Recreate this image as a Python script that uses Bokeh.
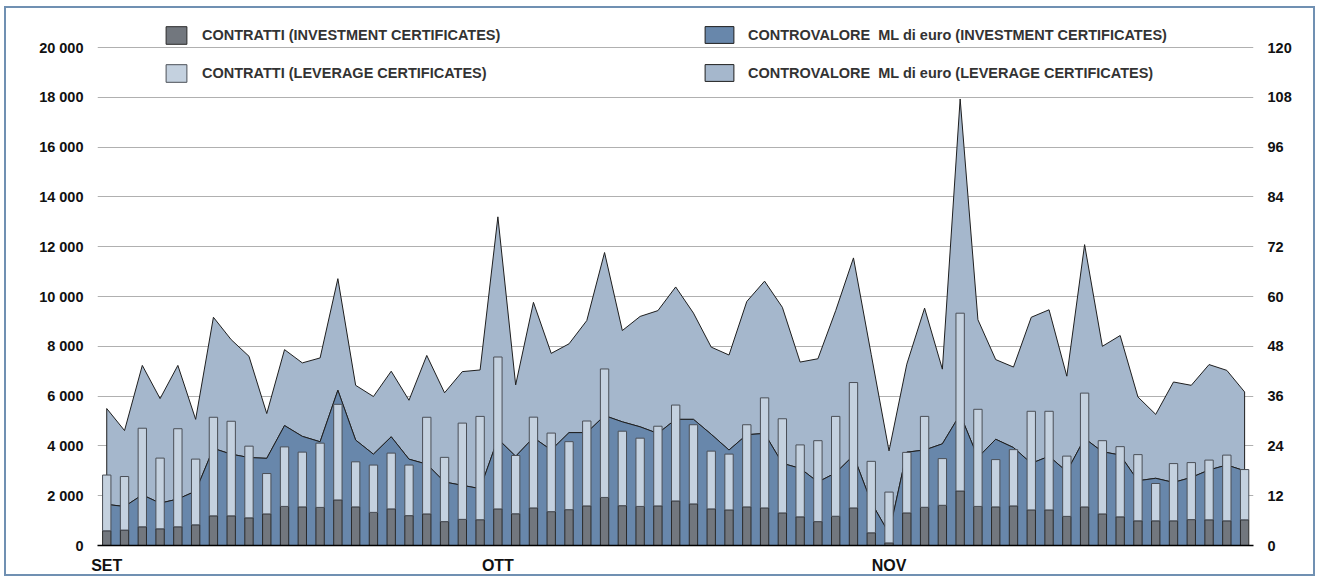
import numpy as np
from bokeh.plotting import figure
from bokeh.models import (Range1d, LinearAxis, FixedTicker, Legend, LegendItem,
                          ColumnDataSource)
from bokeh.embed import file_html
from bokeh.resources import INLINE

# ---------------- data ----------------
month_labels = ["SET", "OTT", "NOV"]
month_start_index = [0, 22, 44]

contratti_investment = [
    590, 620, 750, 670, 750, 830, 1190, 1190, 1110, 1270, 1570, 1550, 1530, 1830,
    1550, 1330, 1470, 1200, 1270, 960, 1050, 1035,
    1470, 1275, 1510, 1360, 1440, 1590, 1930, 1600, 1570, 1590, 1790, 1670, 1470,
    1430, 1550, 1510, 1310, 1150, 960, 1175, 1510, 510,
    105, 1310, 1535, 1615, 2190, 1570, 1550, 1590, 1430, 1430, 1170, 1550, 1270,
    1150, 990, 990, 990, 1040, 1030, 990, 1030]
contratti_leverage = [
    2240, 2150, 3960, 2840, 3940, 2640, 3960, 3800, 2880, 1620, 2390, 2200, 2580, 3840,
    1810, 1900, 2240, 2030, 3880, 2580, 3865, 4150,
    6100, 2340, 3645, 3155, 2730, 3410, 5160, 2990, 2740, 3200, 3850, 3180, 2320,
    2240, 3300, 4420, 3780, 2890, 3250, 4010, 5035, 2870,
    2040, 2430, 3650, 1875, 7140, 3900, 1900, 2260, 3960, 3960, 2420, 4570, 2940,
    2820, 2660, 1500, 2300, 2290, 2400, 2640, 2020]
controvalore_investment = [
    9.9, 9.4, 12.2, 10.2, 11.2, 13.1, 23.4, 22.0, 21.2, 21.0, 28.9, 26.3, 25.0, 37.4,
    25.4, 22.0, 26.2, 20.8, 19.6, 15.3, 14.5, 13.7,
    25.7, 21.5, 26.0, 23.0, 27.2, 27.2, 31.3, 29.8, 28.6, 27.0, 30.4, 30.4, 26.8,
    23.0, 26.7, 27.0, 19.8, 18.6, 15.3, 17.5, 21.7, 10.4,
    2.9, 22.5, 23.0, 24.5, 31.6, 21.2, 25.6, 23.6, 19.8, 21.5, 17.8, 25.8, 22.6,
    21.8, 15.6, 16.2, 15.2, 16.4, 18.2, 19.4, 18.0]
controvalore_leverage = [
    23.1, 18.3, 31.2, 25.2, 32.2, 17.3, 31.6, 27.6, 24.4, 10.8, 18.3, 17.7, 20.2, 26.9,
    13.2, 13.9, 15.8, 14.2, 26.2, 21.5, 27.4, 28.6,
    53.5, 17.2, 32.6, 23.3, 21.4, 27.0, 39.3, 22.0, 26.6, 29.6, 31.9, 25.6, 21.0,
    22.9, 32.1, 36.7, 37.6, 25.6, 29.7, 39.1, 47.6, 35.6,
    19.9, 21.2, 34.2, 18.0, 76.0, 33.2, 19.2, 19.4, 35.2, 35.3, 23.0, 46.7, 25.4,
    28.8, 20.2, 15.4, 24.2, 22.2, 25.4, 22.8, 19.0]

left_ticks = list(range(0, 20001, 2000))
right_ticks = list(range(0, 121, 12))

label_ct_inv = "CONTRATTI (INVESTMENT CERTIFICATES)"
label_ct_lev = "CONTRATTI (LEVERAGE CERTIFICATES)"
label_cv_inv = "CONTROVALORE  ML di euro (INVESTMENT CERTIFICATES)"
label_cv_lev = "CONTROVALORE  ML di euro (LEVERAGE CERTIFICATES)"

# ---------------- styling ----------------
C_CT_INV = "#72777e"
C_CT_LEV = "#c4d1df"
C_CV_INV = "#6887ab"
C_CV_LEV = "#a5b7cc"
FONT = "Liberation Sans"

n = len(contratti_investment)
x = list(range(n))

W, H = 1311, 570
y_top_left = 21085.0
y_top_right = y_top_left * 120 / 20000

p = figure(width=W, height=H, output_backend="svg", toolbar_location=None,
           x_range=Range1d(-0.52, 64.5), y_range=Range1d(0, y_top_left),
           min_border_left=91, min_border_right=64, min_border_top=12,
           min_border_bottom=33)
p.extra_y_ranges = {"cv": Range1d(0, y_top_right)}
p.outline_line_color = None
p.background_fill_color = "white"
p.border_fill_color = "white"
p.styles = {"border": "2px solid #7090b2", "margin-left": "4px", "margin-top": "6px"}

# ---------------- areas (right axis) ----------------
xs = np.array(x, dtype=float)
cv_inv = np.array(controvalore_investment)
cv_tot = cv_inv + np.array(controvalore_leverage)
patch_x = np.concatenate([xs, xs[::-1]])
lev_patch = p.patch(patch_x, np.concatenate([cv_tot, cv_inv[::-1]]), y_range_name="cv",
                    fill_color=C_CV_LEV, line_color="#1e1e1e", line_width=1)
inv_patch = p.patch(patch_x, np.concatenate([cv_inv, np.zeros(n)]), y_range_name="cv",
                    fill_color=C_CV_INV, line_color="#1e1e1e", line_width=1)

# ---------------- bars (left axis) ----------------
src = ColumnDataSource(dict(x=x, ct_inv=contratti_investment, ct_lev=contratti_leverage))
bars = p.vbar_stack(["ct_inv", "ct_lev"], x="x", width=0.47, source=src,
                    fill_color=[C_CT_INV, C_CT_LEV], line_color=["#2a2a2a", "#4a4f57"],
                    line_width=1)

# ---------------- axes ----------------
yl = p.yaxis[0]
yl.ticker = FixedTicker(ticks=left_ticks)
yl.major_label_overrides = {t: f"{t:,}".replace(",", " ") for t in left_ticks}
yr = LinearAxis(y_range_name="cv", ticker=FixedTicker(ticks=right_ticks))
p.add_layout(yr, "right")
for ax in (yl, yr):
    ax.axis_line_color = None
    ax.major_tick_line_color = None
    ax.minor_tick_line_color = None
    ax.major_tick_out = 0
    ax.major_tick_in = 0
    ax.minor_tick_out = 0
    ax.major_label_standoff = 14
    ax.major_label_text_font = FONT
    ax.major_label_text_font_style = "bold"
    ax.major_label_text_font_size = "14.5px"
    ax.major_label_text_color = "#111111"

xa = p.xaxis[0]
xa.ticker = FixedTicker(ticks=month_start_index)
xa.major_label_overrides = {i: m for i, m in zip(month_start_index, month_labels)}
xa.axis_line_color = "black"
xa.axis_line_width = 1.5
xa.major_tick_line_color = None
xa.minor_tick_line_color = None
xa.major_tick_out = 0
xa.major_tick_in = 0
xa.minor_tick_out = 0
xa.major_label_standoff = 11
xa.major_label_text_font = FONT
xa.major_label_text_font_style = "bold"
xa.major_label_text_font_size = "16px"
xa.major_label_text_color = "#111111"

p.xgrid.visible = False
p.ygrid.ticker = FixedTicker(ticks=left_ticks[1:])
p.ygrid.grid_line_color = "#b0b0b0"
p.ygrid.grid_line_width = 1

# ---------------- legends ----------------
def make_legend(items, loc, gw, gh, sp, standoff):
    lg = Legend(items=items, location=loc, orientation="vertical",
                glyph_width=gw, glyph_height=gh, spacing=sp, label_standoff=standoff,
                padding=0, margin=0, border_line_color=None, background_fill_alpha=0,
                label_text_font=FONT, label_text_font_style="bold",
                label_text_font_size="14.5px", label_text_color="#333333")
    return lg

leg_left = make_legend([LegendItem(label=label_ct_inv, renderers=[bars[0]]),
                        LegendItem(label=label_ct_lev, renderers=[bars[1]])],
                       (66, 461), 26, 22, 16, 13)
leg_right = make_legend([LegendItem(label=label_cv_inv, renderers=[inv_patch]),
                         LegendItem(label=label_cv_lev, renderers=[lev_patch])],
                        (604, 462), 36, 21, 17, 11)
p.add_layout(leg_left)
p.add_layout(leg_right)

open("out.html", "w").write(file_html(p, INLINE))
